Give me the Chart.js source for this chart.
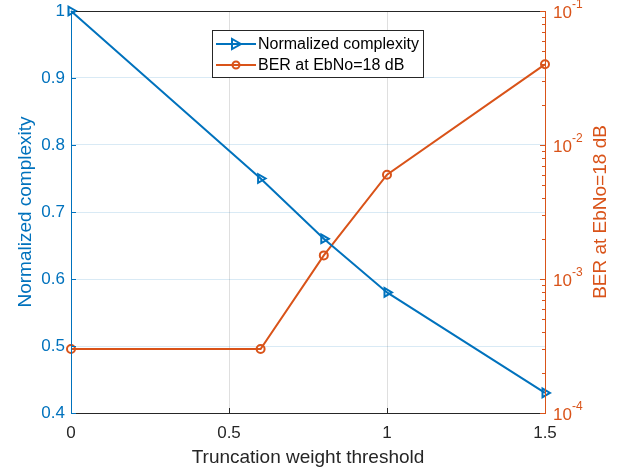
<!DOCTYPE html>
<html>
<head>
<meta charset="utf-8">
<script src="https://cdn.jsdelivr.net/npm/chart.js@4"></script>
<style>
  html, body { margin: 0; padding: 0; background: #ffffff; }
  #wrap { width: 629px; height: 473px; }
</style>
</head>
<body>
<div id="wrap"><canvas id="c" width="629" height="473"></canvas></div>
<script>
// ---- data ----
const thresholds = [0, 0.6, 0.8, 1.0, 1.5];
const complexity = [1.0, 0.75, 0.66, 0.58, 0.43];
const berValues  = [3e-4, 3e-4, 1.5e-3, 6e-3, 4e-2];
const xTickValues = [0, 0.5, 1, 1.5];
const leftTickValues = [0.4, 0.5, 0.6, 0.7, 0.8, 0.9, 1.0];
const rightTickExponents = [-4, -3, -2, -1];
const seriesNames = ['Normalized complexity', 'BER at EbNo=18 dB'];
const xTitle = 'Truncation weight threshold';
const leftTitle = 'Normalized complexity';
const rightTitle = 'BER at EbNo=18 dB';

const BLUE = '#0072BD';
const ORANGE = '#D95319';
const DARK = '#262626';
const FONT = "'Liberation Sans', Arial, Helvetica, sans-serif";

const toPoints = (xs, ys) => xs.map((x, i) => ({ x: x, y: ys[i] }));

// ---- custom drawing: box, inward ticks, right log labels/title, legend ----
const matlabAxes = {
  id: 'matlabAxes',
  afterDraw(chart) {
    const ctx = chart.ctx;
    const a = chart.chartArea;
    const xs = chart.scales.x, ys = chart.scales.y, y2 = chart.scales.y2;
    ctx.save();
    // box
    ctx.lineWidth = 1;
    ctx.strokeStyle = DARK;
    ctx.beginPath();
    ctx.moveTo(a.left, a.top + 0.5); ctx.lineTo(a.right, a.top + 0.5);
    ctx.moveTo(a.left, a.bottom + 0.5); ctx.lineTo(a.right, a.bottom + 0.5);
    ctx.stroke();
    // x ticks (inward)
    xTickValues.forEach(v => {
      const px = Math.round(xs.getPixelForValue(v)) + 0.5;
      ctx.beginPath(); ctx.moveTo(px, a.bottom); ctx.lineTo(px, a.bottom - 5); ctx.stroke();
    });
    // left axis
    ctx.strokeStyle = BLUE;
    ctx.beginPath(); ctx.moveTo(a.left + 0.5, a.top); ctx.lineTo(a.left + 0.5, a.bottom + 1); ctx.stroke();
    leftTickValues.forEach(v => {
      const py = Math.round(ys.getPixelForValue(v)) + 0.5;
      ctx.beginPath(); ctx.moveTo(a.left, py); ctx.lineTo(a.left + 5, py); ctx.stroke();
    });
    // right axis
    ctx.strokeStyle = ORANGE;
    ctx.beginPath(); ctx.moveTo(a.right + 0.5, a.top); ctx.lineTo(a.right + 0.5, a.bottom + 1); ctx.stroke();
    for (let e = rightTickExponents[0]; e <= rightTickExponents[rightTickExponents.length - 1]; e++) {
      for (let m = 1; m <= 9; m++) {
        const v = m * Math.pow(10, e);
        if (v > y2.max * 1.0001) break;
        const py = Math.round(y2.getPixelForValue(v)) + 0.5;
        const len = m === 1 ? 5 : 3;
        ctx.beginPath(); ctx.moveTo(a.right, py); ctx.lineTo(a.right - len, py); ctx.stroke();
      }
    }
    // right tick labels 10^e
    ctx.fillStyle = ORANGE;
    ctx.textBaseline = 'middle';
    ctx.textAlign = 'left';
    rightTickExponents.forEach(e => {
      const py = y2.getPixelForValue(Math.pow(10, e));
      ctx.font = '17px ' + FONT;
      ctx.fillText('10', a.right + 8, py + 2);
      const w = ctx.measureText('10').width;
      ctx.font = '12px ' + FONT;
      ctx.fillText(String(e), a.right + 8 + w, py - 6);
    });
    // right title (reads bottom to top)
    ctx.save();
    ctx.translate(601, (a.top + a.bottom) / 2);
    ctx.rotate(-Math.PI / 2);
    ctx.textAlign = 'center';
    ctx.textBaseline = 'middle';
    ctx.font = '19px ' + FONT;
    ctx.fillStyle = ORANGE;
    ctx.fillText(rightTitle, 0, 0);
    ctx.restore();

    // legend
    const lx = 212, ly = 30, lw = 211, lh = 47;
    ctx.fillStyle = '#ffffff';
    ctx.fillRect(lx, ly, lw, lh);
    ctx.strokeStyle = DARK;
    ctx.lineWidth = 1;
    ctx.strokeRect(lx + 0.5, ly + 0.5, lw, lh);
    const rows = [
      { y: ly + 14, color: BLUE, marker: 'tri', label: seriesNames[0] },
      { y: ly + 35, color: ORANGE, marker: 'circ', label: seriesNames[1] }
    ];
    rows.forEach(r => {
      ctx.strokeStyle = r.color;
      ctx.lineWidth = 2;
      ctx.beginPath(); ctx.moveTo(lx + 4, r.y); ctx.lineTo(lx + 44, r.y); ctx.stroke();
      const cx = lx + 24;
      ctx.beginPath();
      if (r.marker === 'tri') {
        ctx.moveTo(cx + 5, r.y); ctx.lineTo(cx - 4, r.y - 5); ctx.lineTo(cx - 4, r.y + 5); ctx.closePath();
      } else {
        ctx.arc(cx, r.y, 3.5, 0, Math.PI * 2);
      }
      ctx.stroke();
      ctx.fillStyle = '#000000';
      ctx.font = '16px ' + FONT;
      ctx.textAlign = 'left';
      ctx.textBaseline = 'middle';
      ctx.fillText(r.label, lx + 46, r.y + 1);
    });
    ctx.restore();
  }
};

new Chart(document.getElementById('c'), {
  type: 'line',
  data: {
    datasets: [
      {
        label: seriesNames[0],
        data: toPoints(thresholds, complexity),
        yAxisID: 'y',
        borderColor: BLUE,
        backgroundColor: 'rgba(0,0,0,0)',
        borderWidth: 2,
        pointStyle: 'triangle',
        rotation: 90,
        pointRadius: 5,
        pointBorderWidth: 2,
        pointBorderColor: BLUE,
        pointBackgroundColor: 'rgba(0,0,0,0)',
        tension: 0,
        clip: 10
      },
      {
        label: seriesNames[1],
        data: toPoints(thresholds, berValues),
        yAxisID: 'y2',
        borderColor: ORANGE,
        backgroundColor: 'rgba(0,0,0,0)',
        borderWidth: 2,
        pointStyle: 'circle',
        pointRadius: 4,
        pointBorderWidth: 2,
        pointBorderColor: ORANGE,
        pointBackgroundColor: 'rgba(0,0,0,0)',
        tension: 0,
        clip: 10
      }
    ]
  },
  options: {
    responsive: false,
    devicePixelRatio: 1,
    animation: false,
    layout: { padding: { top: 11, left: 0, right: 0, bottom: 0 } },
    plugins: { legend: { display: false }, tooltip: { enabled: false } },
    scales: {
      x: {
        type: 'linear',
        min: 0, max: 1.5,
        afterBuildTicks: s => { s.ticks = xTickValues.map(v => ({ value: v })); },
        afterFit: s => { s.height = 60; s.paddingLeft = 0; s.paddingRight = 0; },
        ticks: {
          color: DARK,
          font: { family: FONT, size: 17 },
          padding: 10,
          maxRotation: 0,
          callback: v => String(v)
        },
        grid: { color: 'rgba(38,38,38,0.15)', drawTicks: false },
        border: { display: false },
        title: {
          display: true, text: xTitle, color: DARK,
          font: { family: FONT, size: 19 },
          padding: { top: 4, bottom: 4 }
        }
      },
      y: {
        type: 'linear',
        position: 'left',
        min: 0.4, max: 1.0,
        afterBuildTicks: s => { s.ticks = leftTickValues.map(v => ({ value: v })); },
        afterFit: s => { s.width = 71; s.paddingTop = 0; s.paddingBottom = 0; },
        ticks: {
          color: BLUE,
          font: { family: FONT, size: 17 },
          padding: 6,
          callback: v => String(+Number(v).toFixed(1))
        },
        grid: { color: 'rgba(0,114,189,0.15)', drawTicks: false },
        border: { display: false },
        title: {
          display: true, text: leftTitle, color: BLUE,
          font: { family: FONT, size: 19 },
          padding: { top: 14, bottom: 4 }
        }
      },
      y2: {
        type: 'logarithmic',
        position: 'right',
        min: 1e-4, max: 1e-1,
        afterFit: s => { s.width = 84; s.paddingTop = 0; s.paddingBottom = 0; },
        ticks: { display: false },
        grid: { display: false, drawOnChartArea: false, drawTicks: false },
        border: { display: false }
      }
    }
  },
  plugins: [matlabAxes]
});
</script>
</body>
</html>
